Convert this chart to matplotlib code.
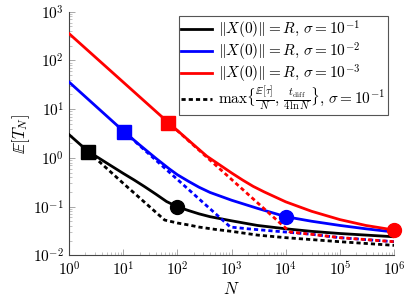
import numpy as np
import matplotlib
matplotlib.use('Agg')
import matplotlib.pyplot as plt
from matplotlib.lines import Line2D

plt.rcParams['mathtext.fontset'] = 'cm'
plt.rcParams['font.family'] = 'serif'
plt.rcParams['font.serif'] = ['cmr10', 'DejaVu Serif']
plt.rcParams['axes.formatter.use_mathtext'] = True

# ||X(0)|| = R, solid curves
n_black = [1, 2.25, 3.5, 5.7, 10, 16, 25, 40, 63, 100, 160, 250, 400, 1e3, 3e3, 1e4, 3e4, 1e5, 3e5, 1e6]
t_black = [3.0, 1.35, 1.0, 0.71, 0.48, 0.35, 0.255, 0.18, 0.127, 0.099, 0.083, 0.071, 0.062, 0.051,
           0.041, 0.035, 0.031, 0.028, 0.026, 0.024]
n_blue = [1, 10.5, 20, 40, 70, 100, 160, 250, 400, 1e3, 3e3, 1e4, 3e4, 1e5, 3e5, 1e6]
t_blue = [36, 3.4, 1.85, 0.98, 0.6, 0.45, 0.33, 0.25, 0.195, 0.135, 0.092, 0.062, 0.050, 0.041, 0.035, 0.030]
n_red = [1, 68, 120, 200, 350, 600, 1e3, 1.6e3, 2.5e3, 4e3, 1e4, 3e4, 1e5, 3e5, 1e6]
t_red = [355, 5.3, 3.05, 1.85, 1.08, 0.72, 0.49, 0.35, 0.26, 0.2, 0.125, 0.08, 0.054, 0.041, 0.033]

# max{E[tau]/N, t_diff/(4 ln N)} estimates, dashed
n_black_est = [2.25, 10, 58, 100, 160, 250, 500, 1e3, 3e3, 1e4, 3e4, 1e5, 3e5, 1e6]
t_black_est = [1.35, 0.30, 0.053, 0.046, 0.042, 0.038, 0.034, 0.031, 0.026, 0.023, 0.021, 0.019, 0.0175, 0.016]
n_blue_est = [10.5, 100, 950, 2e3, 5e3, 1e4, 3e4, 1e5, 3e5, 1e6]
t_blue_est = [3.4, 0.36, 0.038, 0.035, 0.032, 0.030, 0.027, 0.023, 0.021, 0.019]
n_red_est = [68, 1e3, 1.2e4, 3e4, 1e5, 3e5, 1e6]
t_red_est = [5.3, 0.36, 0.030, 0.027, 0.023, 0.021, 0.019]

# square / circle markers
sq_n = [2.25, 10.5, 68]
sq_t = [1.35, 3.4, 5.3]
ci_n = [100, 1e4, 1e6]
ci_t = [0.099, 0.062, 0.033]
colors = ['black', 'blue', 'red']

labels = [r'$\|X(0)\| = R,\,\sigma = 10^{-1}$',
          r'$\|X(0)\| = R,\,\sigma = 10^{-2}$',
          r'$\|X(0)\| = R,\,\sigma = 10^{-3}$',
          r'$\max\{\frac{\mathbb{E}[\tau]}{N},\,\frac{t_{\mathrm{diff}}}{4\ln N}\},\,\sigma = 10^{-1}$']

fig = plt.figure(figsize=(4.11, 3.0), dpi=100)
ax = fig.add_axes([0.168, 0.149, 0.791, 0.812])

lw = 2.0
dash = (1.5, 1.1)
ax.plot(n_black, t_black, color='black', lw=lw, zorder=3)
ax.plot(n_blue, t_blue, color='blue', lw=lw, zorder=3)
ax.plot(n_red, t_red, color='red', lw=lw, zorder=3)

ax.plot(n_blue_est, t_blue_est, color='blue', lw=lw, ls=(0, dash), zorder=4)
ax.plot(n_red_est, t_red_est, color='red', lw=lw, ls=(1.3, dash), zorder=4)
ax.plot(n_black_est, t_black_est, color='black', lw=lw, ls=(0, dash), zorder=4)

for i in range(3):
    ax.plot(sq_n[i], sq_t[i], 's', color=colors[i], ms=10, zorder=5, clip_on=False)
    ax.plot(ci_n[i], ci_t[i], 'o', color=colors[i], ms=10, zorder=5, clip_on=False)

ax.set_xscale('log')
ax.set_yscale('log')
ax.set_xlim(1, 1e6)
ax.set_ylim(1e-2, 1e3)
ax.set_xticks([1, 1e1, 1e2, 1e3, 1e4, 1e5, 1e6])
ax.set_yticks([1e-2, 1e-1, 1, 1e1, 1e2, 1e3])

for s in ['top', 'right']:
    ax.spines[s].set_visible(False)
for s in ['left', 'bottom']:
    ax.spines[s].set_color('#444444')
    ax.spines[s].set_linewidth(0.8)

ax.tick_params(which='major', direction='in', length=4, width=0.6, color='#999999', labelsize=11)
ax.tick_params(which='minor', direction='in', length=2.5, width=0.5, color='#aaaaaa')

ax.set_xlabel(r'$N$', fontsize=12, labelpad=2)
ax.set_ylabel(r'$\mathbb{E}[T_N]$', fontsize=12, labelpad=1)

handles = [Line2D([], [], color='black', lw=lw),
           Line2D([], [], color='blue', lw=lw),
           Line2D([], [], color='red', lw=lw),
           Line2D([], [], color='black', lw=lw, ls=(0, dash))]
leg = ax.legend(handles, labels, loc='upper right', bbox_to_anchor=(0.98, 0.982),
                fontsize=11, fancybox=False, framealpha=1, edgecolor='#555555',
                handlelength=2.0, handletextpad=0.45, labelspacing=0.0, borderpad=0.15,
                borderaxespad=0)
leg.get_frame().set_linewidth(0.8)
leg.set_zorder(10)

fig.savefig('out.png', dpi=100)
